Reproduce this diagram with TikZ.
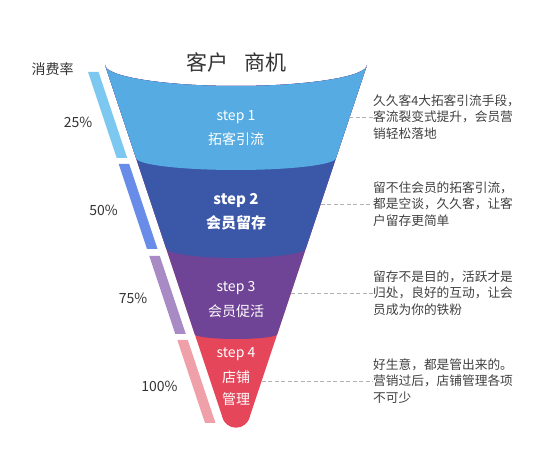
\documentclass[tikz,border=0pt]{standalone}
\usepackage{fontspec}
\setmainfont{Noto Sans CJK SC}
\usetikzlibrary{positioning}

\definecolor{stepA}{RGB}{86,172,226}   % funnel bands, top to bottom
\definecolor{stepB}{RGB}{59,87,168}
\definecolor{stepC}{RGB}{111,67,150}
\definecolor{stepD}{RGB}{230,70,90}
\definecolor{barA}{RGB}{125,200,240}   % rate bars on the left
\definecolor{barB}{RGB}{104,140,232}
\definecolor{barC}{RGB}{168,138,196}
\definecolor{barD}{RGB}{240,160,168}

\tikzset{node distance=22.5pt, % Distance between the lines inside a band
        steptext/.style={ % Text on the funnel
            text=white,
            inner sep=0pt,
            font=\fontsize{14}{16}\selectfont},
        boldstep/.style={
            steptext,
            font=\fontsize{15}{17}\selectfont\bfseries},
        rate/.style={ % Percentages left of the bars
            text=black!80,
            font=\fontsize{14}{16}\selectfont},
        note/.style={ % Comments on the right
            text=black!75,
            align=left,
            anchor=west,
            inner sep=0pt,
            font=\fontsize{12.7}{16.5}\selectfont},
        guide/.style={ % Dashed leaders from funnel to comment
            draw=black!30,
            semithick,
            dash pattern=on 4pt off 2.5pt}
        }

\begin{document}
\begin{tikzpicture}[x=1pt, y=-1pt] % one unit = one pixel, y pointing down
    \useasboundingbox (0,0) rectangle (550,454);

    % funnel bands
    \begin{scope}
        \clip (105,65) arc[start angle=180, end angle=360, x radius=131pt, y radius=21pt]
              -- (250.3,415) .. controls (247,432) and (225,432) .. (221.7,415) -- cycle;
        \fill[stepD] (90,40) rectangle (390,440);
        \fill[stepC] (90,40) -- (90,334) -- (194.7,334)
              arc[start angle=180, end angle=360, x radius=41.3pt, y radius=5pt]
              -- (390,334) -- (390,40) -- cycle;
        \fill[stepB] (90,40) -- (90,248) -- (166,248)
              arc[start angle=180, end angle=360, x radius=70pt, y radius=10pt]
              -- (390,248) -- (390,40) -- cycle;
        \fill[stepA] (90,40) -- (90,158) -- (136,158)
              arc[start angle=180, end angle=360, x radius=100pt, y radius=12pt]
              -- (390,158) -- (390,40) -- cycle;
    \end{scope}

    % rate bars
    \fill[barA] (88,72) -- (98.5,72) -- (127.2,158) -- (116.7,158) -- cycle;
    \fill[barB] (118.7,164) -- (129.2,164) -- (157.5,249) -- (147,249) -- cycle;
    \fill[barC] (149.3,256) -- (159.8,256) -- (185.8,334) -- (175.3,334) -- cycle;
    \fill[barD] (177.3,340) -- (187.8,340) -- (215.5,423) -- (205,423) -- cycle;

    \node[font=\fontsize{21}{24}\selectfont, text=black!80] (title) at (236.5,62) {客户\hspace{0.8em}商机};

    \node[rate] (head) at (52.5,69)    {消费率};
    \node[rate] (r1)   at (78,122.5)   {25\%};
    \node[rate] (r2)   at (103.5,210.5){50\%};
    \node[rate] (r3)   at (133,298.5)  {75\%};
    \node[rate] (r4)   at (159.5,386.5){100\%};

    \node[steptext] (s1) at (236,117)  {step 1};
    \node[steptext] (c1) [below of=s1] {拓客引流};
    \node[boldstep] (s2) at (236,200.5){step 2};
    \node[boldstep] (c2) [below of=s2] {会员留存};
    \node[steptext] (s3) at (236,288.5){step 3};
    \node[steptext] (c3) [below of=s3] {会员促活};
    \node[steptext] (s4) at (236,354.5){step 4};
    \node[steptext] (c4) [below of=s4] {店铺};
    \node[steptext] (d4) [below of=c4] {管理};

    \coordinate (e1) at (349,117);
    \coordinate (e2) at (320.7,204);
    \coordinate (e3) at (291,293);
    \coordinate (e4) at (261.7,381);

    \node[note] (n1) at (373,117) {久久客4大拓客引流手段，\\客流裂变式提升，会员营\\销轻松落地};
    \node[note] (n2) at (373,204) {留不住会员的拓客引流，\\都是空谈，久久客，让客\\户留存更简单};
    \node[note] (n3) at (373,293) {留存不是目的，活跃才是\\归处，良好的互动，让会\\员成为你的铁粉};
    \node[note] (n4) at (373,381) {好生意，都是管出来的。\\营销过后，店铺管理各项\\不可少};

    \draw[guide] (e1) -- (n1.west);
    \draw[guide] (e2) -- (n2.west);
    \draw[guide] (e3) -- (n3.west);
    \draw[guide] (e4) -- (n4.west);
\end{tikzpicture}
\end{document}
